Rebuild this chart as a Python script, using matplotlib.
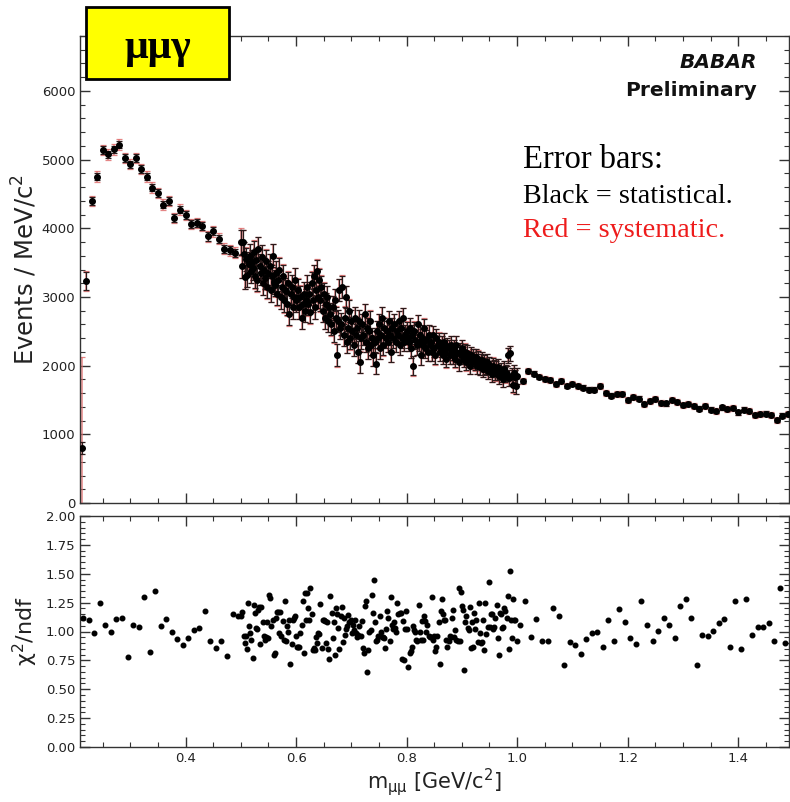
import numpy as np
import matplotlib
matplotlib.use("Agg")
import matplotlib.pyplot as plt
from matplotlib.ticker import MultipleLocator, FormatStrFormatter
from matplotlib.patches import Rectangle

plt.rcParams['font.family'] = ['DejaVu Sans']
plt.rcParams['mathtext.fontset'] = 'dejavusans'
plt.rcParams['mathtext.default'] = 'regular'

# ---------------- data: upper panel (Events / MeV/c^2) ----------------
x_low = [0.212, 0.22, 0.23, 0.24, 0.25, 0.26, 0.27, 0.28, 0.29, 0.30,
         0.31, 0.32, 0.33, 0.34, 0.35, 0.36, 0.37, 0.38, 0.39, 0.40,
         0.41, 0.42, 0.43, 0.44, 0.45, 0.46, 0.47, 0.48, 0.49, 0.50]
y_low = [800, 3227, 4394, 4753, 5141, 5077, 5150, 5218, 5025, 4932,
         5025, 4865, 4753, 4593, 4510, 4346, 4394, 4153, 4273, 4196,
         4065, 4080, 4036, 3881, 3958, 3847, 3702, 3682, 3643, 3798]
stat_low = [90, 130, 55, 55, 55, 55, 55, 55, 55, 55,
            55, 55, 55, 55, 55, 55, 55, 55, 55, 55,
            55, 55, 55, 60, 60, 60, 60, 60, 60, 180]
sys_low = [1550, 110, 70, 70, 70, 70, 70, 70, 70, 70,
           70, 70, 70, 70, 70, 70, 70, 70, 70, 70,
           70, 70, 70, 70, 70, 70, 70, 70, 70, 160]

y_mid = [3450, 3800, 3630, 3290, 3550, 3320, 3480, 3600, 3380, 3510,
         3420, 3650, 3300, 3540, 3250, 3700, 3450, 3350, 3580, 3200,
         3400, 3280, 3520, 3150, 3350, 3450, 3100, 3300, 3600, 3220,
         3180, 3350, 3050, 3250, 3400, 3000, 3150, 3300, 2950, 3100,
         3080, 2900, 3200, 2750, 3050, 3150, 2850, 3000, 3250, 2950,
         2980, 3100, 2850, 3000, 2700, 2900, 3050, 2800, 2950, 3150,
         2900, 3050, 2780, 3200, 2950, 3300, 2850, 3100, 3380, 3000,
         3250, 2950, 3150, 2800, 3050, 2700, 2900, 3000, 2650, 2850,
         2750, 2600, 2850, 2500, 2950, 2700, 2150, 2650, 3100, 2550,
         2600, 3150, 2450, 2700, 3000, 2350, 2550, 2800, 2400, 2650,
         2500, 2300, 2700, 2450, 2550, 2200, 2650, 2050, 2400, 2600,
         2450, 2750, 2350, 2550, 2250, 2500, 2650, 2300, 2400, 2150,
         2350, 2030, 2500, 2400, 2600, 2250, 2450, 2700, 2300, 2550,
         2400, 2500, 2350, 2650, 2450, 2200, 2550, 2400, 2600, 2350,
         2500, 2450, 2650, 2300, 2550, 2400, 2700, 2350, 2450, 2500,
         2400, 2350, 2550, 2250, 2450, 2000, 2500, 2380, 2300, 2600,
         2350, 2450, 2150, 2400, 2300, 2550, 2250, 2380, 2200, 2450,
         2300, 2350, 2200, 2450, 2250, 2150, 2400, 2300, 2350, 2200,
         2250, 2300, 2150, 2350, 2200, 2100, 2280, 2250, 2150, 2300,
         2200, 2150, 2250, 2100, 2300, 2180, 2050, 2200, 2150, 2250,
         2150, 2100, 2200, 2050, 2180, 2100, 2000, 2150, 2080, 2120,
         2080, 2050, 2120, 2000, 2100, 1980, 2050, 2080, 1950, 2030,
         2000, 1980, 2050, 1920, 2010, 1950, 1880, 2000, 1960, 1900,
         1950, 1900, 1980, 1850, 1920, 1880, 1800, 1950, 1870, 1900,
         1880, 2150, 1820, 2180, 1850, 1720, 1900, 1830, 1700, 1850]
stat_mid_groups = [170, 170, 170, 170, 165, 165, 165, 160, 160, 160,
                   155, 150, 150, 145, 140, 140, 135, 130, 125, 125,
                   120, 120, 115, 115, 110]
sys_mid_groups = [120, 120, 120, 120, 115, 115, 115, 110, 110, 110,
                  105, 100, 100, 100, 95, 95, 90, 90, 85, 85,
                  80, 80, 80, 75, 75]

y_high = [1773, 1923, 1885, 1841, 1807, 1788, 1730, 1778, 1710, 1739,
          1701, 1681, 1652, 1652, 1701, 1604, 1565, 1584, 1584, 1497,
          1546, 1521, 1439, 1483, 1512, 1458, 1449, 1497, 1473, 1424,
          1439, 1410, 1376, 1410, 1361, 1342, 1391, 1371, 1381, 1318,
          1361, 1337, 1279, 1294, 1303, 1279, 1206, 1274, 1294]
stat_high = 30
sys_high = 38

# ---------------- data: lower panel (chi2/ndf) ----------------
chi_low = [1.119, 1.096, 0.989, 1.249, 1.058, 1.0, 1.104, 1.116, 0.78, 1.058,
           1.038, 1.298, 0.824, 1.35, 1.044, 1.11, 1.0, 0.933, 0.885, 0.948,
           1.015, 1.032, 1.179, 0.919, 0.855, 0.919, 0.786, 1.15, 1.133]
chi_mid = [1.13, 1.17, 0.96, 0.90, 0.96, 0.85, 1.25, 1.05, 0.99, 0.93,
           0.77, 1.23, 1.16, 1.03, 1.02, 1.19, 1.21, 0.89, 1.21, 1.08,
           0.96, 0.93, 0.95, 1.08, 0.94, 1.32, 1.29, 1.05, 1.10, 0.80,
           0.81, 1.12, 1.17, 1.17, 0.99, 1.17, 0.96, 1.09, 0.93, 1.26,
           0.92, 1.05, 1.00, 1.10, 0.72, 0.89, 1.10, 1.12, 1.13, 0.96,
           0.87, 0.87, 0.87, 0.99, 1.06, 1.26, 0.81, 1.33, 1.10, 1.33,
           1.20, 1.10, 1.38, 1.15, 0.84, 0.86, 0.84, 0.95, 0.90, 0.99,
           0.98, 1.24, 0.86, 1.10, 1.10, 1.09, 0.90, 1.08, 0.85, 0.76,
           1.31, 1.16, 0.94, 1.08, 0.80, 1.20, 1.15, 1.03, 0.85, 1.13,
           1.21, 0.91, 1.12, 0.97, 1.02, 1.05, 1.14, 1.08, 1.10, 0.99,
           1.06, 1.01, 1.10, 0.99, 0.95, 0.97, 1.05, 0.96, 1.09, 0.86,
           0.81, 1.22, 1.26, 0.65, 0.84, 1.00, 1.01, 1.32, 1.16, 1.45,
           1.08, 0.92, 0.93, 0.96, 1.13,
           1.00, 0.95, 0.95, 0.94, 0.86, 1.02, 1.18, 1.12, 0.92, 1.30,
           1.06, 1.02, 1.08, 1.03, 1.00, 1.25, 1.15, 1.16, 1.16, 0.76,
           1.09, 0.75, 1.02, 1.18, 1.02, 0.69, 0.81, 0.83, 0.87, 1.05,
           1.01, 1.00, 0.93, 0.92, 1.23, 1.00, 0.93, 1.09, 0.93, 1.13,
           1.09, 1.00, 1.06, 0.96, 0.95, 0.95, 1.30, 0.93, 0.96, 0.83,
           0.87, 0.96, 1.08, 0.72, 1.18, 1.28, 1.15, 1.10, 1.10, 0.93,
           0.87, 0.92, 0.96, 0.95, 1.12, 1.19, 0.95, 1.01, 0.93, 0.92,
           1.38, 0.92, 1.34, 1.22, 1.19, 0.67, 1.08, 1.13, 1.03, 1.01,
           1.21, 0.86, 1.08, 0.87, 1.16, 1.02, 1.10, 0.91, 1.25, 0.99,
           0.90, 0.91, 1.10, 0.84, 1.25, 0.98, 1.04, 1.43, 1.04, 1.15,
           1.15, 1.02, 1.04, 1.12, 1.23, 0.94, 0.80, 1.16, 1.15, 1.03,
           1.04, 1.20, 1.18, 1.12, 1.31, 0.85, 1.52, 1.10, 0.94, 1.28,
           1.10, 1.10, 0.92]
chi_high = [1.055, 1.263, 0.951, 1.104, 0.916, 0.916, 1.205, 1.133, 0.714, 0.910,
            0.887, 0.806, 0.931, 0.983, 0.997, 0.867, 1.101, 0.916, 1.197, 1.081,
            0.945, 0.893, 1.266, 1.055, 0.916, 1.003, 1.121, 1.052, 0.942, 1.22,
            1.278, 1.113, 0.708, 0.971, 0.960, 1.003, 1.075, 1.104, 0.864, 1.263,
            0.850, 1.283, 0.971, 1.043, 1.043, 1.075, 0.922, 1.379, 0.902]

# ---------------- bin centres ----------------
x_mid = np.linspace(0.502, 1.000, len(y_mid))
x_high = np.round(1.01 + 0.01 * np.arange(len(y_high)), 3)
cx_low = np.round(0.215 + 0.01 * np.arange(len(chi_low)), 3)
cx_mid = np.linspace(0.501, 0.999, len(chi_mid))
cx_high = np.round(1.005 + 0.01 * np.arange(len(chi_high)), 3)

stat_mid = np.repeat(stat_mid_groups, 10)[:len(y_mid)]
sys_mid = np.repeat(sys_mid_groups, 10)[:len(y_mid)]

X = np.concatenate([x_low, x_mid, x_high])
Y = np.concatenate([y_low, y_mid, y_high])
ESTAT = np.concatenate([stat_low, stat_mid, np.full(len(y_high), stat_high)])
ESYS = np.concatenate([sys_low, sys_mid, np.full(len(y_high), sys_high)])

CX = np.concatenate([cx_low, cx_mid, cx_high])
CY = np.concatenate([chi_low, chi_mid, chi_high])

# ---------------- figure ----------------
W, H = 790, 802
fig = plt.figure(figsize=(W / 100, H / 100), dpi=100)
ax1 = fig.add_axes([80 / W, 1 - 503 / H, (789 - 80) / W, (503 - 36) / H])
ax2 = fig.add_axes([80 / W, 1 - 747 / H, (789 - 80) / W, (747 - 516) / H])

# systematic (red) then statistical (black)
ax1.errorbar(X, Y, yerr=np.sqrt(ESTAT**2 + ESYS**2) * 0.85, fmt='none',
             ecolor='#e07070', elinewidth=1.1, capsize=2.5, capthick=0.9, alpha=0.85,
             zorder=2)
ax1.errorbar(X, Y, yerr=ESTAT, fmt='o', color='black', ms=4.0, mec='black',
             ecolor='#2a1a1a', elinewidth=0.9, capsize=2.5, capthick=0.9, zorder=3)

ax2.plot(CX, CY, 'o', color='black', ms=3.3, mec='black', zorder=3)

xmin, xmax = 0.209, 1.492
for ax in (ax1, ax2):
    ax.set_xlim(xmin, xmax)
    ax.xaxis.set_major_locator(MultipleLocator(0.2))
    ax.xaxis.set_minor_locator(MultipleLocator(0.05))
    ax.tick_params(which='both', direction='in', top=True, right=True,
                   color='#333333', labelcolor='#222222', labelsize=9.5)
    ax.tick_params(which='major', length=7, width=1.0)
    ax.tick_params(which='minor', length=3.5, width=0.8)
    for s in ax.spines.values():
        s.set_color('#333333')
        s.set_linewidth(1.0)

ax1.set_ylim(0, 6800)
ax1.yaxis.set_major_locator(MultipleLocator(1000))
ax1.yaxis.set_minor_locator(MultipleLocator(200))
ax1.tick_params(labelbottom=False)
ax1.set_ylabel('Events / MeV/c$^2$', fontsize=17.5, color='#222222', labelpad=2)

ax2.set_ylim(0, 2)
ax2.yaxis.set_major_locator(MultipleLocator(0.25))
ax2.yaxis.set_minor_locator(MultipleLocator(0.05))
ax2.yaxis.set_major_formatter(FormatStrFormatter('%.2f'))
ax2.set_ylabel('χ$^2$/ndf', fontsize=16, color='#222222', labelpad=4)
ax2.set_xlabel('m$_{μμ}$ [GeV/c$^2$]', fontsize=15, color='#222222', labelpad=1)

# ---------------- annotations ----------------
def fx(px):
    return px / W

def fy(py):
    return 1 - py / H

box = Rectangle((fx(86), fy(79)), (229 - 86) / W, (79 - 7) / H, transform=fig.transFigure,
                facecolor='#ffff00', edgecolor='black', linewidth=2, zorder=10)
fig.add_artist(box)
fig.text(fx(157.5), fy(58), 'μμγ', ha='center', va='baseline', fontsize=30,
         fontweight='bold', family='Liberation Serif', zorder=11)

fig.text(fx(757), fy(68), 'BABAR', ha='right', va='baseline', fontsize=14.5,
         fontweight='bold', style='italic', color='#111111')
fig.text(fx(757), fy(96), 'Preliminary', ha='right', va='baseline', fontsize=14.5,
         fontweight='bold', color='#111111')

fig.text(fx(523), fy(168), 'Error bars:', ha='left', va='baseline', fontsize=23.5,
         family='Liberation Serif', color='black')
fig.text(fx(523), fy(203), 'Black = statistical.', ha='left', va='baseline', fontsize=20.3,
         family='Liberation Serif', color='black')
fig.text(fx(523), fy(237), 'Red = systematic.', ha='left', va='baseline', fontsize=20.3,
         family='Liberation Serif', color='#ee1c1c')

fig.savefig('out.png', dpi=100)
